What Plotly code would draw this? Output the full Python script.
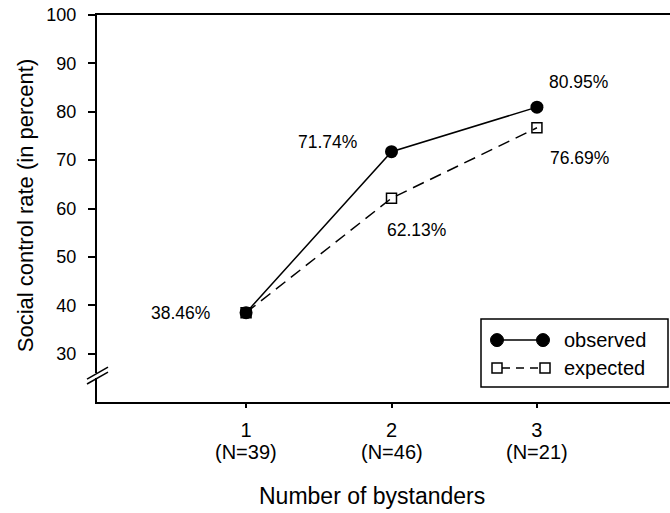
import plotly.graph_objects as go

bystanders = [1, 2, 3]
n_labels = ["(N=39)", "(N=46)", "(N=21)"]
observed = [38.46, 71.74, 80.95]
expected = [38.46, 62.13, 76.69]
y_ticks = [30, 40, 50, 60, 70, 80, 90, 100]

FONT = "Liberation Sans, Arial, sans-serif"

fig = go.Figure()

fig.add_trace(go.Scatter(
    x=bystanders, y=expected, mode="lines+markers", name="expected",
    line=dict(color="black", width=1.5, dash="12px,7px"),
    marker=dict(symbol="square-open", size=10, color="black", line=dict(width=1.5)),
    showlegend=False, cliponaxis=False))
fig.add_trace(go.Scatter(
    x=bystanders, y=observed, mode="lines+markers", name="observed",
    line=dict(color="black", width=1.5),
    marker=dict(symbol="circle", size=13, color="black"),
    showlegend=False, cliponaxis=False))

# value labels (offsets in px)
obs_off = [(-66, 0), (-64, 10), (42, 25)]
exp_off = [None, (25, -32), (43, -30)]
for i, (x, v) in enumerate(zip(bystanders, observed)):
    dx, dy = obs_off[i]
    fig.add_annotation(x=x, y=v, text=f"{v:.2f}%", showarrow=False,
                       xshift=dx, yshift=dy, font=dict(size=17.5, color="black", family=FONT))
for i, (x, v) in enumerate(zip(bystanders, expected)):
    if exp_off[i] is None:
        continue
    dx, dy = exp_off[i]
    fig.add_annotation(x=x, y=v, text=f"{v:.2f}%", showarrow=False,
                       xshift=dx, yshift=dy, font=dict(size=17.5, color="black", family=FONT))

# layout geometry helpers (pixel -> paper)
W, H = 573.0, 387.5
def px(p):
    return (p - 97) / W
def py(p):
    return (402 - p) / H

# group size labels under the category ticks
for b, n in zip(bystanders, n_labels):
    fig.add_annotation(x=b, xref="x", yref="paper", y=py(452), text=n, showarrow=False,
                       xanchor="center", yanchor="middle",
                       font=dict(size=20, color="black", family=FONT))

shapes = []
# custom legend
shapes.append(dict(type="rect", xref="paper", yref="paper",
                   x0=px(481), x1=px(668), y0=py(387), y1=py(319),
                   line=dict(color="black", width=1.5), fillcolor="white", layer="above"))
shapes.append(dict(type="line", xref="paper", yref="paper", x0=px(497), x1=px(543),
                   y0=py(340), y1=py(340), line=dict(color="black", width=1.5), layer="above"))
for cx in (497, 543):
    shapes.append(dict(type="circle", xref="paper", yref="paper",
                       x0=px(cx - 6.5), x1=px(cx + 6.5), y0=py(340 + 6.5), y1=py(340 - 6.5),
                       fillcolor="black", line=dict(color="black", width=1), layer="above"))
shapes.append(dict(type="line", xref="paper", yref="paper", x0=px(502), x1=px(541),
                   y0=py(368), y1=py(368), line=dict(color="black", width=1.5, dash="8px,6px"),
                   layer="above"))
for cx in (497, 545):
    shapes.append(dict(type="rect", xref="paper", yref="paper",
                       x0=px(cx - 5), x1=px(cx + 5), y0=py(368 + 5), y1=py(368 - 5),
                       fillcolor="white", line=dict(color="black", width=1.5), layer="above"))
fig.add_annotation(xref="paper", yref="paper", x=px(562), y=py(340), text="observed",
                   showarrow=False, xanchor="left", yanchor="middle",
                   font=dict(size=20, color="black", family=FONT))
fig.add_annotation(xref="paper", yref="paper", x=px(562), y=py(368), text="expected",
                   showarrow=False, xanchor="left", yanchor="middle",
                   font=dict(size=20, color="black", family=FONT))

# axis break marks
shapes.append(dict(type="rect", xref="paper", yref="paper", x0=px(94), x1=px(100),
                   y0=py(378), y1=py(373), fillcolor="white", line=dict(width=0), layer="above"))
shapes.append(dict(type="line", xref="paper", yref="paper", x0=px(87), x1=px(108),
                   y0=py(384), y1=py(372), line=dict(color="black", width=1.5), layer="above"))
shapes.append(dict(type="line", xref="paper", yref="paper", x0=px(87), x1=px(108),
                   y0=py(379), y1=py(367), line=dict(color="black", width=1.5), layer="above"))

# axis titles
fig.add_annotation(xref="paper", yref="paper", x=px(372), y=py(496),
                   text="Number of bystanders", showarrow=False,
                   xanchor="center", yanchor="middle",
                   font=dict(size=23, color="black", family=FONT))
fig.add_annotation(xref="paper", yref="paper", x=px(25), y=py(206),
                   text="Social control rate (in percent)", showarrow=False, textangle=-90,
                   xanchor="center", yanchor="middle",
                   font=dict(size=22, color="black", family=FONT))

fig.update_layout(
    width=670, height=513,
    margin=dict(l=97, r=0, t=14.5, b=111, autoexpand=False),
    paper_bgcolor="white", plot_bgcolor="white",
    font=dict(family=FONT, color="black"),
    shapes=shapes,
    showlegend=False,
    xaxis=dict(
        range=[-0.025, 3.915], tickmode="array", tickvals=bystanders,
        ticktext=[str(b) for b in bystanders],
        ticks="outside", ticklen=4, tickwidth=1.5, tickcolor="black",
        showline=True, linecolor="black", linewidth=2, mirror=True,
        showgrid=False, zeroline=False, ticklabelstandoff=5, automargin=False,
        tickfont=dict(size=20, family=FONT, color="black"),
    ),
    yaxis=dict(
        range=[20, 100], tickmode="array", tickvals=y_ticks,
        ticks="outside", ticklen=7, tickwidth=1.5, tickcolor="black",
        showline=True, linecolor="black", linewidth=2,
        showgrid=False, zeroline=False, ticklabelstandoff=8, automargin=False,
        tickfont=dict(size=18, family=FONT, color="black"),
    ),
)

fig.write_html("out.html", config={"displayModeBar": False},
               post_script="document.body.style.margin='0';document.body.style.overflow='hidden';")
